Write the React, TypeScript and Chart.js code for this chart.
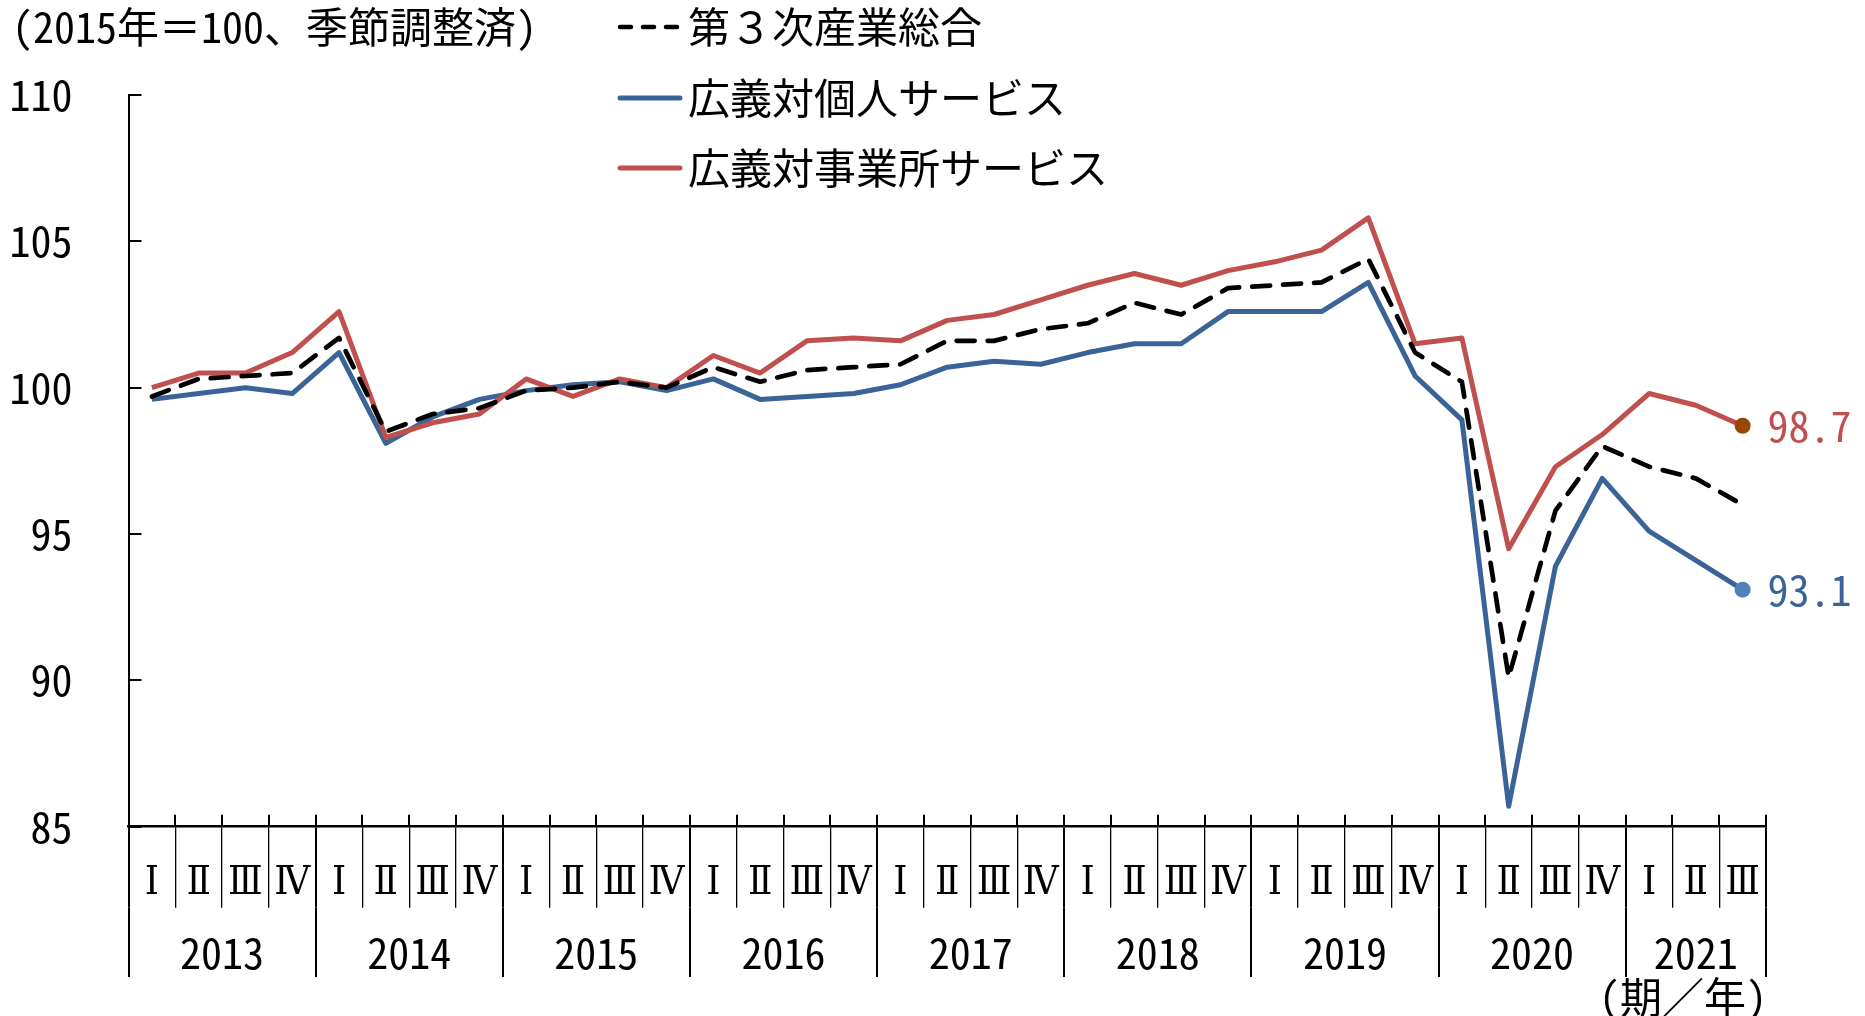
import React, { useEffect, useRef } from 'react';
import { Chart, registerables } from 'chart.js';

Chart.register(...registerables);

// ---------- data ----------
const quarterLabels = [
  'Ⅰ', 'Ⅱ', 'Ⅲ', 'Ⅳ', // 2013
  'Ⅰ', 'Ⅱ', 'Ⅲ', 'Ⅳ', // 2014
  'Ⅰ', 'Ⅱ', 'Ⅲ', 'Ⅳ', // 2015
  'Ⅰ', 'Ⅱ', 'Ⅲ', 'Ⅳ', // 2016
  'Ⅰ', 'Ⅱ', 'Ⅲ', 'Ⅳ', // 2017
  'Ⅰ', 'Ⅱ', 'Ⅲ', 'Ⅳ', // 2018
  'Ⅰ', 'Ⅱ', 'Ⅲ', 'Ⅳ', // 2019
  'Ⅰ', 'Ⅱ', 'Ⅲ', 'Ⅳ', // 2020
  'Ⅰ', 'Ⅱ', 'Ⅲ', // 2021
];
const yearLabels = ['2013', '2014', '2015', '2016', '2017', '2018', '2019', '2020', '2021'];
const quartersPerYear = [4, 4, 4, 4, 4, 4, 4, 4, 3];

const tertiaryTotal = [
  99.7, 100.3, 100.4, 100.5, 101.7, 98.5, 99.1, 99.3, 99.9, 100.0, 100.2, 100.0,
  100.7, 100.2, 100.6, 100.7, 100.8, 101.6, 101.6, 102.0, 102.2, 102.9, 102.5, 103.4,
  103.5, 103.6, 104.4, 101.2, 100.2, 90.1, 95.8, 98.0, 97.3, 96.9, 96.0,
];
const personalServices = [
  99.6, 99.8, 100.0, 99.8, 101.2, 98.1, 99.0, 99.6, 99.9, 100.1, 100.2, 99.9,
  100.3, 99.6, 99.7, 99.8, 100.1, 100.7, 100.9, 100.8, 101.2, 101.5, 101.5, 102.6,
  102.6, 102.6, 103.6, 100.4, 98.9, 85.7, 93.9, 96.9, 95.1, 94.1, 93.1,
];
const businessServices = [
  100.0, 100.5, 100.5, 101.2, 102.6, 98.3, 98.8, 99.1, 100.3, 99.7, 100.3, 100.0,
  101.1, 100.5, 101.6, 101.7, 101.6, 102.3, 102.5, 103.0, 103.5, 103.9, 103.5, 104.0,
  104.3, 104.7, 105.8, 101.5, 101.7, 94.5, 97.3, 98.4, 99.8, 99.4, 98.7,
];

const seriesNames = ['第３次産業総合', '広義対個人サービス', '広義対事業所サービス'];
const yTickValues = [85, 90, 95, 100, 105, 110];
const titleText = '(2015年＝100、季節調整済)';
const unitText = '(期／年)';

// ---------- styles ----------
const FONT = "'Noto Sans Mono CJK JP', 'Noto Sans CJK JP', sans-serif";
const ROMAN_FONT = "'DejaVu Serif Condensed', 'DejaVu Serif', 'Noto Sans CJK JP', serif";
const BLACK = '#000000';
const BLUE = '#3A6397';
const RED = '#C0504D';
const BLUE_DOT = '#4F81BD';
const RED_DOT = '#974706';

// year boundaries / centres on the category index scale
const yearBoundaries: number[] = [];
const yearCenters: number[] = [];
{
  let start = 0;
  yearBoundaries.push(-0.5);
  for (const n of quartersPerYear) {
    yearCenters.push(start + (n - 1) / 2);
    start += n;
    yearBoundaries.push(start - 0.5);
  }
}

const annotationPlugin = {
  id: 'annotations',
  afterDraw(chart: any) {
    const ctx = chart.ctx as CanvasRenderingContext2D;
    const { left, bottom } = chart.chartArea;
    const xs = chart.scales.x;
    const ys = chart.scales.y;
    ctx.save();

    // inward tick marks
    ctx.strokeStyle = BLACK;
    ctx.lineWidth = 2;
    ctx.beginPath();
    for (const v of yTickValues) {
      const py = Math.round(ys.getPixelForValue(v));
      ctx.moveTo(left, py);
      ctx.lineTo(left + 13, py);
    }
    for (let i = 0; i <= quarterLabels.length; i++) {
      const px = Math.round(xs.getPixelForValue(i - 0.5));
      ctx.moveTo(px, bottom);
      ctx.lineTo(px, bottom - 12);
    }
    ctx.stroke();

    // title
    ctx.fillStyle = BLACK;
    ctx.font = `42px ${FONT}`;
    ctx.textBaseline = 'middle';
    ctx.textAlign = 'left';
    ctx.fillText(titleText, 12, 27);

    // legend
    const rows = [27, 98, 168];
    const ds = chart.data.datasets;
    for (let r = 0; r < 3; r++) {
      const d = ds[r];
      const y = rows[r];
      ctx.beginPath();
      ctx.strokeStyle = d.borderColor;
      ctx.lineCap = 'round';
      if (d.borderDash && d.borderDash.length) {
        ctx.lineWidth = 4.5;
        ctx.setLineDash([11, 12]);
        ctx.moveTo(620, y);
        ctx.lineTo(678, y);
      } else {
        ctx.lineWidth = 5;
        ctx.setLineDash([]);
        ctx.moveTo(620, y);
        ctx.lineTo(680, y);
      }
      ctx.stroke();
      ctx.setLineDash([]);
      ctx.fillStyle = BLACK;
      ctx.fillText(d.label, 688, y);
    }

    // end-value labels
    const endLabels = [
      { ds: 2, color: RED },
      { ds: 1, color: BLUE },
    ];
    for (const e of endLabels) {
      const meta = chart.getDatasetMeta(e.ds);
      const last = meta.data[meta.data.length - 1];
      const val = chart.data.datasets[e.ds].data[meta.data.length - 1];
      ctx.fillStyle = e.color;
      ctx.fillText(Number(val).toFixed(1), last.x + 25, last.y);
    }

    // unit label
    ctx.fillStyle = BLACK;
    ctx.textAlign = 'right';
    ctx.fillText(unitText, chart.chartArea.right + 1, 997);

    ctx.restore();
  },
};

export default function App() {
  const canvasRef = useRef<HTMLCanvasElement | null>(null);

  useEffect(() => {
    if (!canvasRef.current) return;
    const lastIdx = quarterLabels.length - 1;
    const chart = new Chart(canvasRef.current, {
      type: 'line',
      data: {
        labels: quarterLabels,
        datasets: [
          {
            label: seriesNames[0],
            data: tertiaryTotal,
            borderColor: BLACK,
            borderWidth: 4.7,
            borderDash: [18, 13],
            borderCapStyle: 'round',
            borderJoinStyle: 'round',
            pointRadius: 0,
            fill: false,
            order: 0,
          },
          {
            label: seriesNames[1],
            data: personalServices,
            borderColor: BLUE,
            borderWidth: 5,
            borderJoinStyle: 'round',
            pointRadius: (c: any) => (c.dataIndex === lastIdx ? 8 : 0),
            pointBackgroundColor: BLUE_DOT,
            pointBorderWidth: 0,
            fill: false,
            order: 2,
          },
          {
            label: seriesNames[2],
            data: businessServices,
            borderColor: RED,
            borderWidth: 5,
            borderJoinStyle: 'round',
            pointRadius: (c: any) => (c.dataIndex === lastIdx ? 8 : 0),
            pointBackgroundColor: RED_DOT,
            pointBorderWidth: 0,
            fill: false,
            order: 1,
          },
        ],
      },
      options: {
        responsive: false,
        maintainAspectRatio: false,
        animation: false,
        devicePixelRatio: 1,
        layout: { padding: { left: 0, top: 95, right: 99, bottom: 39 } },
        plugins: {
          legend: { display: false },
          tooltip: { enabled: false },
          title: { display: false },
        },
        elements: { line: { tension: 0 } },
        scales: {
          y: {
            type: 'linear',
            min: 85,
            max: 110,
            ticks: {
              stepSize: 5,
              font: { family: FONT, size: 42 },
              color: BLACK,
              padding: 56,
            },
            grid: { display: false, drawTicks: false },
            border: { display: true, color: BLACK, width: 2 },
            afterFit: (s: any) => {
              s.width = 128.5;
            },
          },
          x: {
            type: 'category',
            position: 'bottom',
            offset: true,
            grid: {
              display: true,
              drawOnChartArea: false,
              drawTicks: true,
              tickLength: 81,
              offset: true,
              color: BLACK,
              lineWidth: (c: any) => (c.index === undefined || c.index % 4 === 0 ? 2 : 1.3),
            },
            border: { display: true, color: BLACK, width: 2.5 },
            ticks: {
              autoSkip: false,
              maxRotation: 0,
              minRotation: 0,
              font: { family: ROMAN_FONT, size: 40 },
              color: BLACK,
              padding: -48.5,
            },
            afterFit: (s: any) => {
              s.height = 81.3;
            },
          },
          x2: {
            type: 'linear',
            position: 'bottom',
            bounds: 'data',
            min: -0.5,
            max: 34.5,
            afterBuildTicks: (s: any) => {
              const vals = [...yearBoundaries, ...yearCenters].sort((a, b) => a - b);
              s.ticks = vals.map((v) => ({ value: v }));
            },
            ticks: {
              autoSkip: false,
              maxRotation: 0,
              minRotation: 0,
              font: { family: FONT, size: 42 },
              color: BLACK,
              padding: -49,
              callback: (v: any) => {
                const idx = yearCenters.indexOf(Number(v));
                return idx >= 0 ? yearLabels[idx] : '';
              },
            },
            grid: {
              display: true,
              drawOnChartArea: false,
              drawTicks: true,
              tickLength: 69,
              color: (c: any) =>
                c.tick && yearBoundaries.includes(c.tick.value) ? BLACK : 'rgba(0,0,0,0)',
              lineWidth: 2,
            },
            border: { display: false },
            afterFit: (s: any) => {
              s.height = 69;
            },
          },
        },
      } as any,
      plugins: [annotationPlugin],
    });
    return () => chart.destroy();
  }, []);

  return (
    <div style={{ position: 'absolute', left: 0, top: 0, width: 1865, height: 1016, background: '#fff' }}>
      <canvas ref={canvasRef} width={1865} height={1016} style={{ display: 'block', width: 1865, height: 1016 }} />
    </div>
  );
}
